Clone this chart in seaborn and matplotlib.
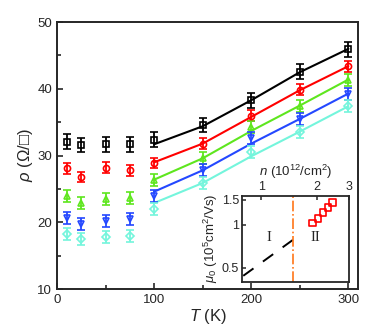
import numpy as np
import pandas as pd
import matplotlib
matplotlib.use('Agg')
import matplotlib.pyplot as plt
import matplotlib.ticker as mticker
import seaborn as sns

# ---- data ----
temps = [10, 25, 50, 75, 100, 150, 200, 250, 300]
rho_black = [32.1, 31.6, 31.7, 31.7, 32.4, 34.6, 38.3, 42.6, 45.9]
rho_red = [28.1, 26.8, 28.2, 27.8, 28.9, 31.8, 36.0, 39.9, 43.4]
rho_green = [23.9, 22.9, 23.5, 23.7, 26.3, 29.6, 34.3, 37.5, 41.4]
rho_blue = [20.6, 19.8, 20.2, 20.5, 23.9, 27.9, 32.6, 35.5, 39.3]
rho_cyan = [18.2, 17.5, 17.8, 17.9, 22.0, 25.9, 30.6, 33.6, 37.4]
err_series = [1.1, 0.8, 0.9, 0.9, 0.9]

fit_temps = [100, 150, 200, 250, 300]
fit_black = [31.7, 34.4, 38.3, 42.5, 46.0]
fit_red = [29.0, 31.8, 35.8, 39.8, 43.4]
fit_green = [26.4, 29.6, 33.7, 37.5, 41.4]
fit_blue = [24.6, 27.8, 31.8, 35.5, 39.3]
fit_cyan = [22.9, 25.9, 29.9, 33.6, 37.4]

colors = ['black', '#ff0000', '#5ee61e', '#2448ff', '#74f5dc']
markers = ['s', 'o', '^', 'v', 'D']

# inset
n_II = [1.90, 2.03, 2.17, 2.30, 2.44]
mu_II = [1.03, 1.11, 1.22, 1.32, 1.43]
n_I = [0.80, 1.66]
mu_I = [0.44, 0.87]
n_border = 1.48

sns.set_style('ticks')
plt.rcParams['font.family'] = ['Liberation Sans', 'DejaVu Sans']
plt.rcParams['mathtext.fontset'] = 'custom'
plt.rcParams['mathtext.rm'] = 'Liberation Sans'
plt.rcParams['mathtext.it'] = 'Liberation Sans:italic'

fig = plt.figure(figsize=(3.88, 3.35), dpi=100)
ax = fig.add_axes([0.147, 0.137, 0.776, 0.797])

all_rho = [rho_black, rho_red, rho_green, rho_blue, rho_cyan]
all_fit = [fit_black, fit_red, fit_green, fit_blue, fit_cyan]

for rho, fit, c, m, e in zip(all_rho, all_fit, colors, markers, err_series):
    ax.errorbar(temps, rho, yerr=e, fmt=m, mfc='none', mec=c, ecolor=c,
                ms=4.4 if m != 'D' else 3.8, mew=1.2, elinewidth=1.3,
                capsize=3, capthick=1.3, zorder=3)
    df = pd.DataFrame({'T': fit_temps, 'rho': fit})
    sns.lineplot(data=df, x='T', y='rho', color=c, lw=1.5, ax=ax, zorder=2)

ax.set_xlim(0, 310)
ax.set_ylim(10, 50)
ax.xaxis.set_major_locator(mticker.MultipleLocator(100))
ax.xaxis.set_minor_locator(mticker.MultipleLocator(50))
ax.yaxis.set_major_locator(mticker.MultipleLocator(10))
ax.yaxis.set_minor_locator(mticker.MultipleLocator(5))
ax.tick_params(which='both', direction='in', labelsize=9.5, width=1.2)
ax.tick_params(which='major', length=4)
ax.tick_params(which='minor', length=3)
for s in ax.spines.values():
    s.set_linewidth(1.4)
ax.set_xlabel(r'$T$ (K)', fontsize=12, labelpad=1)
ax.set_ylabel(r'$\rho$ ($\Omega$/□)', fontsize=12, labelpad=2)

# ---- inset ----
ins = fig.add_axes([0.623, 0.159, 0.277, 0.257])
ins.set_facecolor('white')
ins.plot(n_I, mu_I, color='black', lw=1.4, dashes=(6.5, 6))
ins.axvline(n_border, color='#ff7518', lw=1.2, ls='-.')
sns.scatterplot(x=n_II, y=mu_II, marker='s', s=22, facecolor='none',
                edgecolor='red', linewidth=1.2, ax=ins, zorder=3)
ins.set_xscale('log')
ins.set_yscale('log')
ins.set_xlim(0.785, 3.0)
ins.set_ylim(0.4, 1.6)
ins.xaxis.set_major_locator(mticker.FixedLocator([1, 2, 3]))
ins.xaxis.set_minor_locator(mticker.NullLocator())
ins.xaxis.set_major_formatter(mticker.FormatStrFormatter('%g'))
ins.yaxis.set_major_locator(mticker.FixedLocator([0.5, 1, 1.5]))
ins.yaxis.set_minor_locator(mticker.NullLocator())
ins.yaxis.set_major_formatter(mticker.FormatStrFormatter('%g'))
ins.xaxis.tick_top()
ins.xaxis.set_label_position('top')
ins.tick_params(which='both', direction='in', labelsize=9, width=1.1, length=3, pad=2)
for s in ins.spines.values():
    s.set_linewidth(1.3)
ins.set_xlabel(r'$n$ (10$^{12}$/cm$^2$)', fontsize=9.5, labelpad=3.5)
ins.set_ylabel(r'$\mu_0$ (10$^5$cm$^2$/Vs)', fontsize=9.5, labelpad=1)
ins.text(1.10, 0.81, 'I', family='Liberation Serif', fontsize=10.5,
         ha='center', va='center')
ins.text(1.96, 0.81, 'II', family='Liberation Serif', fontsize=10.5,
         ha='center', va='center')

fig.savefig('out.png', dpi=100)
